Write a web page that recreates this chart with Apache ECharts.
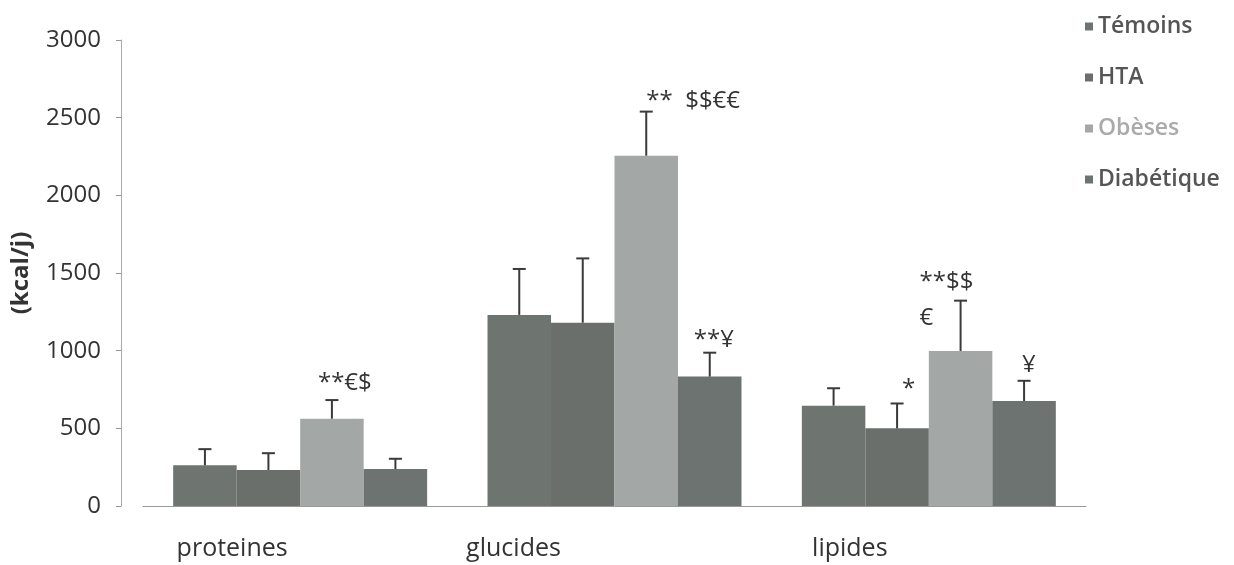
<!DOCTYPE html>
<html>
<head>
<meta charset="utf-8">
<script src="https://cdn.jsdelivr.net/npm/echarts@6/dist/echarts.min.js"></script>
<style>
html,body{margin:0;padding:0;background:#fff;}
#chart{width:1234px;height:565px;}
</style>
</head>
<body>
<div id="chart"></div>
<script>
// ---- data ----
const categories = ['proteines', 'glucides', 'lipides'];
const seriesNames = ['Témoins', 'HTA', 'Obèses', 'Diabétique'];
const temoins = [262, 1230, 646];
const temoinsErr = [104, 296, 112];
const hta = [232, 1180, 500];
const htaErr = [108, 414, 160];
const obeses = [562, 2255, 998];
const obesesErr = [120, 284, 324];
const diabetique = [238, 833, 676];
const diabetiqueErr = [66, 154, 130];
const temoinsSig = ['', '', ''];
const htaSig = ['', '', '*'];
const obesesSig = ['**€$', '**  $$€€', '**$$\n€'];
const diabetiqueSig = ['', '**¥', '¥'];
const yTicks = [0, 500, 1000, 1500, 2000, 2500, 3000];

// ---- style ----
const colors = ['#6e746f', '#6a6f6b', '#a3a8a7', '#6d7370'];
const legendColors = ['#555', '#555', '#aaa', '#555'];
const catGap = 0.192;
// pixel nudges of significance labels relative to the error-bar cap [dx, dy], key = series-category
const sigNudge = {'1-2':[5,-14],'2-0':[-14,-17],'2-1':[0,-10],'2-2':[-41,0],'3-1':[-16,-13],'3-2':[-2,-16]};
// right padding per category label (shifts the label left of the group centre)
const labelPad = [136, 202, 158];

const means = [temoins, hta, obeses, diabetique];
const errs = [temoinsErr, htaErr, obesesErr, diabetiqueErr];
const sigs = [temoinsSig, htaSig, obesesSig, diabetiqueSig];

const chart = echarts.init(document.getElementById('chart'), null, {renderer: 'canvas'});

const series = [];
seriesNames.forEach((n, s) => {
  series.push({
    name: n, type: 'bar', data: means[s],
    barGap: '0%', barCategoryGap: (catGap * 100) + '%',
    itemStyle: {color: colors[s]}, z: 2
  });
});
seriesNames.forEach((n, s) => {
  series.push({
    name: 'err' + s, type: 'custom', z: 3,
    data: categories.map((c, i) => [i, means[s][i], errs[s][i]]),
    encode: {x: 0, y: 1},
    renderItem: function (params, api) {
      const ci = api.value(0), v = api.value(1), e = api.value(2);
      const band = api.size([1, 0])[0];
      const bw = band * (1 - catGap) / 4;
      const cx = api.coord([ci, 0])[0] + (s - 1.5) * bw;
      const yTop = api.coord([ci, v])[1];
      const yCap = api.coord([ci, v + e])[1];
      const children = [
        {type: 'line', shape: {x1: cx, y1: yTop, x2: cx, y2: yCap}, style: {stroke: '#3a3a3a', lineWidth: 2}},
        {type: 'line', shape: {x1: cx - 6.5, y1: yCap, x2: cx + 6.5, y2: yCap}, style: {stroke: '#3a3a3a', lineWidth: 2}}
      ];
      const txt = sigs[s][params.dataIndex];
      if (txt) {
        const nd = sigNudge[s + '-' + params.dataIndex] || [0, -15];
        children.push({type: 'text', x: cx + nd[0], y: yCap + nd[1],
          style: {text: txt, font: '24px "Open Sans"', fill: '#333', align: 'left', verticalAlign: 'middle', lineHeight: 36}});
      }
      return {type: 'group', children: children};
    }
  });
});

const rich = {};
labelPad.forEach((p, i) => {
  rich['c' + i] = {fontFamily: 'Open Sans', fontSize: 25, color: '#333', padding: [0, p, 0, 0]};
});

chart.setOption({
  animation: false,
  backgroundColor: '#fff',
  grid: {left: 143, right: 148, top: 40, bottom: 59},
  legend: {
    orient: 'vertical', left: 1080, top: 10, itemGap: 28,
    itemWidth: 8, itemHeight: 8, icon: 'rect',
    textStyle: {fontFamily: 'Open Sans', fontSize: 23, fontWeight: 600, color: '#555'},
    data: seriesNames.map((n, i) => ({name: n, textStyle: {color: legendColors[i]}}))
  },
  xAxis: {
    type: 'category', data: categories,
    axisLine: {lineStyle: {color: '#999', width: 1}},
    axisTick: {show: false},
    axisLabel: {fontFamily: 'Open Sans', fontSize: 25, color: '#333', margin: 30,
      formatter: (v, i) => '{c' + i + '|' + v + '}', rich: rich}
  },
  yAxis: {
    type: 'value', min: 0, max: 3000, interval: 500, offset: 22,
    name: '(kcal/j)', nameLocation: 'middle', nameGap: 88, nameRotate: 90,
    nameTextStyle: {fontFamily: 'Open Sans', fontSize: 24, fontWeight: 'bold', color: '#333'},
    axisLine: {show: true, lineStyle: {color: '#aaa', width: 1}},
    axisTick: {show: true, length: 5, lineStyle: {color: '#999'}},
    splitLine: {show: false},
    axisLabel: {fontFamily: 'Open Sans', fontSize: 24, color: '#333', margin: 20,
      formatter: v => yTicks.includes(v) ? String(v) : ''}
  },
  series: series
});
</script>
</body>
</html>
